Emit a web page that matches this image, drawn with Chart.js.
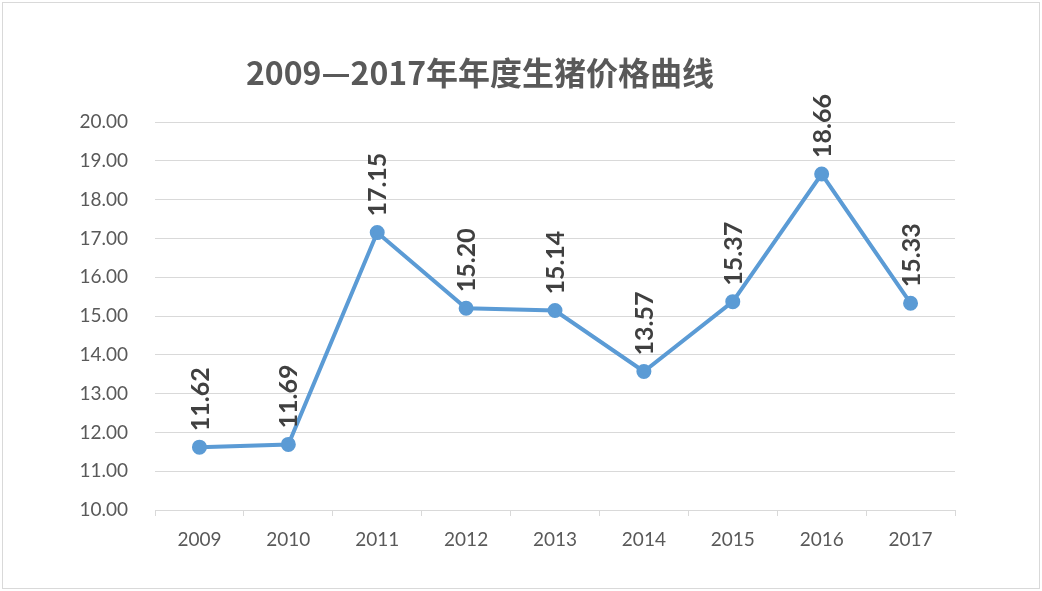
<!DOCTYPE html>
<html>
<head>
<meta charset="utf-8">
<script src="https://cdn.jsdelivr.net/npm/chart.js@4"></script>
<style>
  html, body { margin: 0; padding: 0; background: #fff; }
  #wrap { position: relative; width: 1042px; height: 591px; }
  #frame { position: absolute; left: 2px; top: 2px; right: 2px; bottom: 2px; border: 1px solid #d9d9d9; pointer-events: none; }
</style>
</head>
<body>
<div id="wrap">
  <canvas id="myChart" width="1042" height="591"></canvas>
  <div id="frame"></div>
</div>
<script>
// datos del grafico
const years = ['2009', '2010', '2011', '2012', '2013', '2014', '2015', '2016', '2017'];
const prices = [11.62, 11.69, 17.15, 15.20, 15.14, 13.57, 15.37, 18.66, 15.33];
const titleText = '2009—2017年年度生猪价格曲线';

const latin = 'Lato, "Noto Sans CJK SC", sans-serif';

// etiquetas giradas encima de cada punto
const valueLabels = {
  id: 'valueLabels',
  afterDatasetsDraw(chart) {
    const ctx = chart.ctx;
    const meta = chart.getDatasetMeta(0);
    ctx.save();
    ctx.font = 'bold 25px ' + latin;
    ctx.fillStyle = '#404040';
    ctx.textAlign = 'left';
    ctx.textBaseline = 'middle';
    meta.data.forEach((pt, i) => {
      ctx.save();
      ctx.translate(pt.x + 1, pt.y - 16);
      ctx.rotate(-Math.PI / 2);
      ctx.fillText(prices[i].toFixed(2), 0, 0);
      ctx.restore();
    });
    ctx.restore();
  }
};

// titulo a mano, Excel lo pone algo a la izquierda
const chartTitle = {
  id: 'chartTitle',
  afterDraw(chart) {
    const ctx = chart.ctx;
    ctx.save();
    ctx.font = 'bold 32px "Noto Sans CJK SC", sans-serif';
    ctx.fillStyle = '#595959';
    ctx.textAlign = 'center';
    ctx.textBaseline = 'middle';
    ctx.fillText(titleText, 480, 73);
    ctx.restore();
  }
};

const ctx = document.getElementById('myChart');
const myChart = new Chart(ctx, {
  type: 'line',
  data: {
    labels: years,
    datasets: [
      {
        label: '生猪价格',
        data: prices,
        fill: false,
        borderColor: '#5b9bd5',
        backgroundColor: '#5b9bd5',
        borderWidth: 4,
        pointRadius: 5.5,
        pointHoverRadius: 5.5,
        pointBackgroundColor: '#5b9bd5',
        pointBorderColor: '#5b9bd5',
        tension: 0,
      },
    ],
  },
  options: {
    responsive: false,
    animation: false,
    layout: {
      padding: { top: 122, right: 87, bottom: 0, left: 0 },
    },
    plugins: {
      legend: { display: false },
      tooltip: { enabled: false },
    },
    scales: {
      x: {
        offset: true,
        grid: {
          offset: true,
          drawOnChartArea: false,
          drawTicks: true,
          tickLength: 6,
          color: '#d9d9d9',
        },
        border: { color: '#d9d9d9', width: 1 },
        ticks: {
          color: '#595959',
          font: { family: latin, size: 19 },
          padding: 12,
          maxRotation: 0,
        },
        afterFit(scale) {
          scale.height = 591 - 510;
        },
      },
      y: {
        min: 10,
        max: 20,
        grid: {
          color: '#d9d9d9',
          drawTicks: false,
        },
        border: { display: false },
        ticks: {
          stepSize: 1,
          color: '#595959',
          font: { family: latin, size: 19 },
          padding: 27,
          callback: (v) => v.toFixed(2),
        },
        afterFit(scale) {
          scale.width = 155;
        },
      },
    },
  },
  plugins: [valueLabels, chartTitle],
});
</script>
</body>
</html>
